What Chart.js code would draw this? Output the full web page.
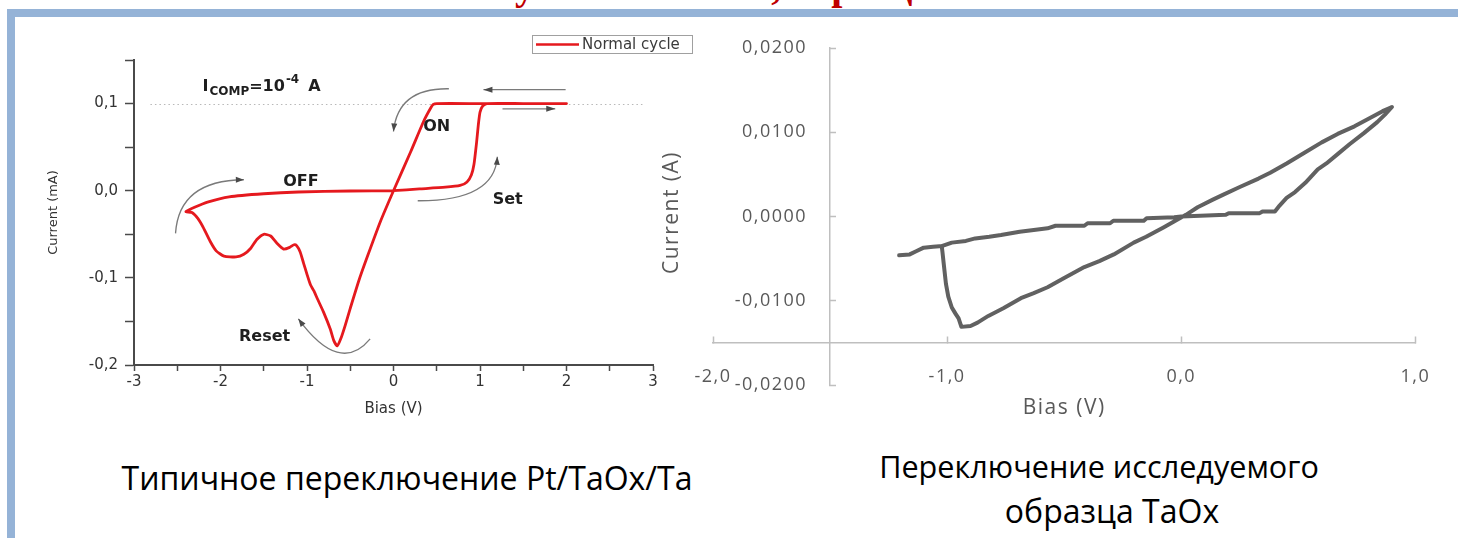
<!DOCTYPE html>
<html lang="ru">
<head>
<meta charset="utf-8">
<title>Переключение TaOx</title>
<script src="https://cdn.jsdelivr.net/npm/chart.js@4/dist/chart.umd.min.js"></script>
<style>
  html, body { margin: 0; padding: 0; background: #fff; }
  body { width: 1458px; height: 538px; position: relative; overflow: hidden; font-family: 'Open Sans', sans-serif; }
  #frameTop { position: absolute; left: 7px; top: 9px; width: 1451px; height: 8px; background: #95b3d7; }
  #frameLeft { position: absolute; left: 7px; top: 9px; width: 8px; height: 529px; background: #95b3d7; }
  #slideTitle { position: absolute; left: 458px; top: -34px; white-space: nowrap;
                font: bold 40px/40px 'Liberation Serif', serif; color: #c00000; }
  #refWrap { position: absolute; left: 0; top: 0; width: 700px; height: 440px; }
  #sampleWrap { position: absolute; left: 640px; top: 0; width: 818px; height: 440px; }
  .cap { position: absolute; white-space: nowrap; color: #000; font-family: 'Open Sans', sans-serif; font-size: 32px; line-height: 1; transform: translate(-50%, -50%); }
</style>
</head>
<body>
<div id="frameTop"></div>
<div id="frameLeft"></div>
<div id="slideTitle">Результаты: ВАХ, образцы TaOx</div>
<div id="refWrap"><canvas id="refChart" width="700" height="440"></canvas></div>
<div id="sampleWrap"><canvas id="sampleChart" width="818" height="440"></canvas></div>
<div class="cap" style="left:407px; top:478px;">Типичное переключение Pt/TaOx/Ta</div>
<div class="cap" style="left:1099px; top:466px; font-size:30.6px;">Переключение исследуемого</div>
<div class="cap" style="left:1112px; top:511px;">образца TaOx</div>

<script>
// Pt/TaOx/Ta switching loop: bias (V) and current (mA)
const refBias = [0, 0.3, 0.6, 0.77, 0.85, 0.9, 0.93, 0.96, 0.98, 1.0,
  1.03, 1.08, 1.5, 2.0, 1.5, 1.0, 0.5, 0.46, 0.43, 0.35,
  0.2, 0, -0.15, -0.3, -0.4, -0.5, -0.56, -0.61, -0.65, -0.69,
  -0.73, -0.81, -0.88, -0.92, -0.96, -1.0, -1.04, -1.08, -1.12, -1.15,
  -1.2, -1.27, -1.35, -1.42, -1.5, -1.58, -1.65, -1.73, -1.82, -1.96,
  -2.05, -2.12, -2.2, -2.26, -2.33, -2.40, -2.3, -2.15, -1.9, -1.5,
  -1.1, -0.5, 0];
const refCurrent = [0, 0.002, 0.004, 0.006, 0.010, 0.018, 0.030, 0.055, 0.075, 0.090,
  0.097, 0.100, 0.100, 0.100, 0.100, 0.100, 0.100, 0.099, 0.095, 0.080,
  0.045, 0, -0.035, -0.075, -0.103, -0.135, -0.155, -0.170, -0.178, -0.172,
  -0.159, -0.139, -0.124, -0.115, -0.108, -0.096, -0.083, -0.070, -0.063, -0.062,
  -0.065, -0.067, -0.060, -0.052, -0.050, -0.056, -0.066, -0.073, -0.076, -0.075,
  -0.069, -0.058, -0.042, -0.032, -0.025, -0.024, -0.019, -0.013, -0.007, -0.0035,
  -0.0015, -0.0003, 0];
const refSeriesName = 'Normal cycle';
const refCompliance = 0.1;

// Measured TaOx sample loop: bias (V) and current (A)
const sampleBias = [-1.205, -1.16, -1.13, -1.10, -1.06, -1.02, -0.98, -0.92, -0.88, -0.82,
  -0.77, -0.69, -0.63, -0.571, -0.537, -0.414, -0.40, -0.304, -0.29, -0.16,
  -0.148, -0.03, 0.0, 0.19, 0.203, 0.335, 0.347, 0.40, 0.42, 0.45,
  0.486, 0.53, 0.583, 0.62, 0.668, 0.72, 0.78, 0.837, 0.87, 0.90,
  0.86, 0.80, 0.74, 0.668, 0.60, 0.528, 0.45, 0.38, 0.33, 0.25,
  0.18, 0.135, 0.07, 0.02, -0.076, -0.15, -0.203, -0.288, -0.35, -0.414,
  -0.50, -0.571, -0.63, -0.685, -0.76, -0.824, -0.87, -0.90, -0.939, -0.951,
  -0.965, -0.98, -0.995, -1.005, -1.015, -1.02, -1.023];
const sampleCurrent = [-0.0046, -0.0045, -0.0041, -0.0037, -0.0036, -0.0035, -0.0031, -0.0029, -0.0026, -0.0024,
  -0.0022, -0.0018, -0.0016, -0.0014, -0.0011, -0.0011, -0.0008, -0.0008, -0.0005, -0.0005,
  -0.0002, -0.0001, 0.0, 0.0002, 0.0004, 0.0004, 0.0006, 0.0006, 0.0013, 0.0022,
  0.0029, 0.0040, 0.0056, 0.0063, 0.0074, 0.0086, 0.0099, 0.0112, 0.0121, 0.0130,
  0.0125, 0.0116, 0.0107, 0.0098, 0.0088, 0.0076, 0.0063, 0.0052, 0.0045, 0.0035,
  0.0026, 0.0020, 0.0011, 0.0002, -0.0013, -0.0024, -0.0031, -0.0045, -0.0053, -0.0060,
  -0.0073, -0.0084, -0.0091, -0.0097, -0.0109, -0.0118, -0.0126, -0.0130, -0.0131, -0.0121,
  -0.0115, -0.0108, -0.0095, -0.0080, -0.0055, -0.0042, -0.0035];

// Tick values and their printed labels
const refXTickValues = [-3, -2, -1, 0, 1, 2, 3];
const refXTickLabels = ['-3', '-2', '-1', '0', '1', '2', '3'];
const refYTickValues = [-0.2, -0.1, 0, 0.1];
const refYTickLabels = ['-0,2', '-0,1', '0,0', '0,1'];
const sampleXTickValues = [-2, -1, 0, 1];
const sampleXTickLabels = ['-2,0', '-1,0', '0,0', '1,0'];
const sampleYTickValues = [-0.02, -0.01, 0, 0.01, 0.02];
const sampleYTickLabels = ['-0,0200', '-0,0100', '0,0000', '0,0100', '0,0200'];

function labelFor(values, labels) {
  return (v) => {
    const i = values.findIndex(t => Math.abs(t - v) < 1e-7);
    return i < 0 ? '' : labels[i];
  };
}
function toPoints(xs, ys) { return xs.map((x, i) => ({ x, y: ys[i] })); }

// ---------- left plot: annotations ----------
// Curved guide arrows in (bias, current) units: start, bend, end
const guideCurves = [
  [[-2.52, -0.049], [-2.48, 0.012], [-1.73, 0.0126]],   // OFF sweep
  [[-0.27, -0.170], [-0.62, -0.212], [-1.10, -0.147]],  // Reset
  [[0.64, 0.117], [0.05, 0.118], [0.0, 0.068]],         // ON
  [[0.28, -0.0115], [1.17, -0.012], [1.20, 0.039]]      // Set
];
const guideLines = [
  [[1.99, 0.116], [1.04, 0.116]],
  [[1.26, 0.094], [1.87, 0.094]]
];
const stateLabels = [
  ['OFF', -1.07, 0.010],
  ['ON', 0.50, 0.0736],
  ['Set', 1.32, -0.0103],
  ['Reset', -1.49, -0.1678]
];

function arrowHead(ctx, x, y, ang, len, half) {
  const c = Math.cos(ang), s = Math.sin(ang);
  ctx.beginPath();
  ctx.moveTo(x, y);
  ctx.lineTo(x - len * c + half * s, y - len * s - half * c);
  ctx.lineTo(x - len * c - half * s, y - len * s + half * c);
  ctx.closePath();
  ctx.fill();
}

const refDecor = {
  id: 'refDecor',
  beforeDatasetsDraw(chart) {
    const { ctx, scales: { x, y } } = chart;
    ctx.save();
    ctx.strokeStyle = '#b8b8b8';
    ctx.lineWidth = 1;
    ctx.setLineDash([1.5, 3]);
    ctx.beginPath();
    ctx.moveTo(x.getPixelForValue(-2.81), Math.round(y.getPixelForValue(refCompliance)) + 0.5);
    ctx.lineTo(x.getPixelForValue(2.91), Math.round(y.getPixelForValue(refCompliance)) + 0.5);
    ctx.stroke();
    ctx.restore();
  },
  afterDatasetsDraw(chart) {
    const { ctx, scales: { x, y }, chartArea } = chart;
    const P = (p) => [x.getPixelForValue(p[0]), y.getPixelForValue(p[1])];
    ctx.save();
    ctx.strokeStyle = '#7a7a7a';
    ctx.fillStyle = '#4a4a4a';
    ctx.lineWidth = 1.3;
    guideCurves.forEach(([a, b, c]) => {
      const [x0, y0] = P(a), [x1, y1] = P(b), [x2, y2] = P(c);
      ctx.beginPath();
      ctx.moveTo(x0, y0);
      ctx.quadraticCurveTo(x1, y1, x2, y2);
      ctx.stroke();
      arrowHead(ctx, x2, y2, Math.atan2(y2 - y1, x2 - x1), 8, 3);
    });
    guideLines.forEach(([a, b]) => {
      const [x0, y0] = P(a), [x2, y2] = P(b);
      ctx.beginPath();
      ctx.moveTo(x0, y0);
      ctx.lineTo(x2, y2);
      ctx.stroke();
      arrowHead(ctx, x2, y2, Math.atan2(y2 - y0, x2 - x0), 9, 3);
    });

    // state labels
    ctx.fillStyle = '#1e1e1e';
    ctx.font = 'bold 16px "DejaVu Sans"';
    ctx.textAlign = 'center';
    ctx.textBaseline = 'middle';
    stateLabels.forEach(([t, v, i]) => {
      const [px, py] = P([v, i]);
      ctx.fillText(t, px, py);
    });

    // compliance label: I_COMP = 10^-4 A
    const [bx, by] = P([-2.208, 0.115]);
    ctx.textAlign = 'left';
    ctx.textBaseline = 'alphabetic';
    let cx = bx;
    ctx.font = 'bold 16px "DejaVu Sans"';
    ctx.fillText('I', cx, by); cx += ctx.measureText('I').width + 1;
    ctx.font = 'bold 12px "DejaVu Sans"';
    ctx.fillText('COMP', cx, by + 4); cx += ctx.measureText('COMP').width;
    ctx.font = 'bold 16px "DejaVu Sans"';
    ctx.fillText('=10', cx, by); cx += ctx.measureText('=10').width + 1;
    ctx.font = 'bold 12px "DejaVu Sans"';
    ctx.fillText('-4', cx, by - 8); cx += ctx.measureText('-4').width + 9;
    ctx.font = 'bold 16px "DejaVu Sans"';
    ctx.fillText('A', cx, by);

    // legend box
    const ds = chart.data.datasets[0];
    const lx = chartArea.right - 121, ly = chartArea.top - 25;
    ctx.strokeStyle = '#a0a0a0';
    ctx.lineWidth = 1;
    ctx.strokeRect(lx + 0.5, ly + 0.5, 160, 18);
    ctx.strokeStyle = ds.borderColor;
    ctx.lineWidth = 2.5;
    ctx.beginPath();
    ctx.moveTo(lx + 4, ly + 9.5);
    ctx.lineTo(lx + 47, ly + 9.5);
    ctx.stroke();
    ctx.fillStyle = '#3a3a3a';
    ctx.font = '15px "DejaVu Sans"';
    ctx.textBaseline = 'middle';
    ctx.fillText(ds.label, lx + 50, ly + 10);
    ctx.restore();
  }
};

new Chart(document.getElementById('refChart'), {
  type: 'scatter',
  data: {
    datasets: [{
      label: refSeriesName,
      data: toPoints(refBias, refCurrent),
      showLine: true,
      borderColor: '#e5191e',
      borderWidth: 2.8,
      pointRadius: 0,
      tension: 0.2,
      borderJoinStyle: 'round',
      borderCapStyle: 'round'
    }]
  },
  options: {
    responsive: false,
    animation: false,
    events: [],
    layout: { padding: { left: 0, top: 60, right: 47, bottom: 0 } },
    plugins: { legend: { display: false }, tooltip: { enabled: false } },
    scales: {
      x: {
        type: 'linear', min: -3, max: 3,
        afterFit: (s) => { s.height = 75; },
        ticks: { stepSize: 0.5, autoSkip: false, maxRotation: 0, padding: 2,
                 color: '#333', font: { family: 'DejaVu Sans', size: 15 },
                 callback: labelFor(refXTickValues, refXTickLabels) },
        grid: { drawOnChartArea: false, drawTicks: true, tickLength: 6, tickColor: '#4a4a4a', tickWidth: 1.5 },
        border: { display: true, color: '#4a4a4a', width: 2 },
        title: { display: true, text: 'Bias (V)', color: '#333', font: { family: 'DejaVu Sans', size: 15 },
                 padding: { top: 0, bottom: 22 } }
      },
      y: {
        type: 'linear', min: -0.2, max: 0.15,
        afterFit: (s) => { s.width = 134; },
        ticks: { stepSize: 0.05, autoSkip: false, padding: 7,
                 color: '#333', font: { family: 'DejaVu Sans', size: 15 },
                 callback: labelFor(refYTickValues, refYTickLabels) },
        grid: { drawOnChartArea: false, drawTicks: true, tickLength: 9, tickColor: '#4a4a4a', tickWidth: 1.5 },
        border: { display: true, color: '#4a4a4a', width: 2 },
        title: { display: true, text: 'Current (mA)', color: '#333', font: { family: 'DejaVu Sans', size: 13 },
                 padding: { top: 46, bottom: 0 } }
      }
    }
  },
  plugins: [refDecor]
});

// ---------- right plot ----------
// Excel-style spaced lettering, value-axis labels beside the crossing axis, and axis titles
const sampleText = {
  id: 'sampleText',
  beforeDraw(chart) {
    chart.ctx.letterSpacing = '1.5px';
  },
  afterDraw(chart) {
    const { ctx, chartArea, scales: { x, y } } = chart;
    ctx.save();
    ctx.letterSpacing = '1.5px';
    ctx.fillStyle = '#595959';
    ctx.font = '18px "Open Sans"';
    ctx.textAlign = 'right';
    ctx.textBaseline = 'middle';
    const axisX = x.getPixelForValue(y.options.position.x);
    sampleYTickValues.forEach((v, i) => {
      ctx.fillText(sampleYTickLabels[i], axisX - 23, y.getPixelForValue(v));
    });
    ctx.font = '21px "Open Sans"';
    ctx.textAlign = 'center';
    ctx.fillText('Bias (V)', (chartArea.left + chartArea.right) / 2, chartArea.bottom + 23);
    ctx.translate(chartArea.left - 41, (chartArea.top + chartArea.bottom) / 2 - 4);
    ctx.rotate(-Math.PI / 2);
    ctx.fillText('Current (A)', 0, 0);
    ctx.restore();
  }
};

new Chart(document.getElementById('sampleChart'), {
  type: 'scatter',
  data: {
    datasets: [{
      label: 'TaOx',
      data: toPoints(sampleBias, sampleCurrent),
      showLine: true,
      borderColor: '#616161',
      borderWidth: 4,
      pointRadius: 0,
      tension: 0,
      borderJoinStyle: 'round',
      borderCapStyle: 'round'
    }]
  },
  options: {
    responsive: false,
    animation: false,
    events: [],
    layout: { padding: { left: 73, top: 48, right: 36, bottom: 55 } },
    plugins: { legend: { display: false }, tooltip: { enabled: false } },
    scales: {
      x: {
        type: 'linear', min: -2, max: 1, position: { y: -0.015 },
        ticks: { stepSize: 1, autoSkip: false, maxRotation: 0, padding: 30,
                 color: '#595959', font: { family: 'Open Sans', size: 18 },
                 callback: labelFor(sampleXTickValues, sampleXTickLabels) },
        grid: { drawOnChartArea: false, drawTicks: true, tickLength: -7, tickColor: '#bfbfbf', tickWidth: 1.5 },
        border: { display: true, color: '#bfbfbf', width: 1.5 }
      },
      y: {
        type: 'linear', min: -0.02, max: 0.02, position: { x: -1.5 },
        ticks: { stepSize: 0.01, autoSkip: false, display: false },
        grid: { drawOnChartArea: false, drawTicks: true, tickLength: -7, tickColor: '#bfbfbf', tickWidth: 1.5 },
        border: { display: true, color: '#bfbfbf', width: 1.5 }
      }
    }
  },
  plugins: [sampleText]
});
</script>
</body>
</html>
